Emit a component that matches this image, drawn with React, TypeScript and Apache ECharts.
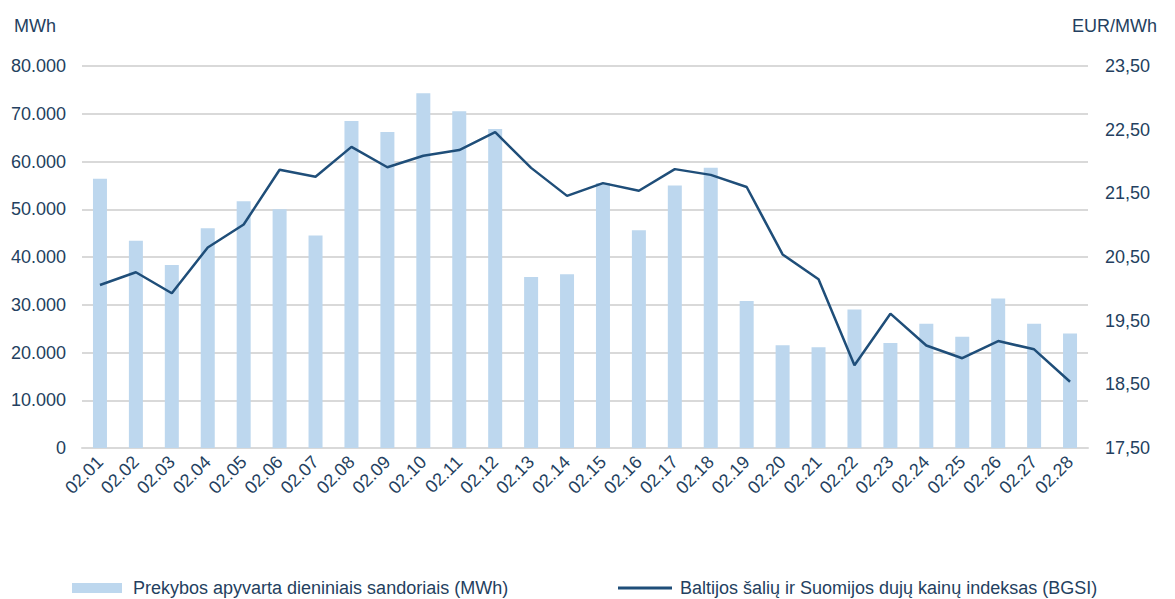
import React, { useEffect, useRef } from "react";
import * as echarts from "echarts";

const categories = [
  "02.01", "02.02", "02.03", "02.04", "02.05", "02.06", "02.07", "02.08", "02.09", "02.10",
  "02.11", "02.12", "02.13", "02.14", "02.15", "02.16", "02.17", "02.18", "02.19", "02.20",
  "02.21", "02.22", "02.23", "02.24", "02.25", "02.26", "02.27", "02.28",
];

const turnoverMWh = [
  56400, 43400, 38300, 46000, 51700, 50000, 44500, 68500, 66200, 74300,
  70500, 66800, 35800, 36400, 55500, 45600, 55000, 58700, 30800, 21500,
  21100, 29000, 22000, 26000, 23300, 31300, 26000, 24000,
];

const bgsiIndex = [
  20.06, 20.26, 19.93, 20.65, 21.01, 21.87, 21.76, 22.23, 21.91, 22.09,
  22.18, 22.46, 21.9, 21.46, 21.66, 21.54, 21.88, 21.79, 21.6, 20.54,
  20.15, 18.8, 19.61, 19.11, 18.91, 19.18, 19.05, 18.54,
];

const barName = "Prekybos apyvarta dieniniais sandoriais (MWh)";
const lineName = "Baltijos šalių ir Suomijos dujų kainų indeksas (BGSI)";
const leftUnit = "MWh";
const rightUnit = "EUR/MWh";

const TEXT = "#243F60";
const FONT = "'Liberation Sans', Arial, sans-serif";

export default function App() {
  const ref = useRef<HTMLDivElement>(null);

  useEffect(() => {
    document.body.style.margin = "0";
    if (!ref.current) return;
    const chart = echarts.init(ref.current, undefined, { renderer: "svg" });
    chart.setOption({
      animation: false,
      backgroundColor: "#ffffff",
      textStyle: { fontFamily: FONT, color: TEXT },
      grid: { left: 82, right: 87, top: 66, bottom: 151, containLabel: false },
      graphic: [
        {
          type: "text",
          left: 14,
          top: 17,
          style: { text: leftUnit, fill: TEXT, font: `18px ${FONT}` },
        },
        {
          type: "text",
          left: 1072,
          top: 17,
          style: { text: rightUnit, fill: TEXT, font: `18px ${FONT}` },
        },
      ],
      legend: [
        {
          left: 72,
          top: 579,
          padding: 0,
          itemWidth: 50,
          itemHeight: 10,
          textStyle: { color: TEXT, fontSize: 18, fontFamily: FONT, padding: [0, 0, 0, 6] },
          data: [{ name: barName, icon: "rect" }],
        },
        {
          left: 618,
          top: 579,
          padding: 0,
          itemWidth: 54,
          itemHeight: 10,
          textStyle: { color: TEXT, fontSize: 18, fontFamily: FONT, padding: [0, 0, 0, 3] },
          data: [{ name: lineName, icon: "path://M0 0H54V3H0Z" }],
        },
      ],
      xAxis: {
        type: "category",
        data: categories,
        axisTick: { show: false },
        axisLine: { lineStyle: { color: "#d9d9d9", width: 2 } },
        axisLabel: {
          rotate: 45,
          color: TEXT,
          fontSize: 18,
          fontFamily: FONT,
          margin: 11,
          interval: 0,
        },
      },
      yAxis: [
        {
          type: "value",
          min: 0,
          max: 80000,
          interval: 10000,
          axisLine: { show: false },
          axisTick: { show: false },
          splitLine: { lineStyle: { color: "#d9d9d9", width: 2 } },
          axisLabel: {
            color: TEXT,
            fontSize: 18,
            fontFamily: FONT,
            margin: 16,
            formatter: (v: number) =>
              v === 0 ? "0" : Math.round(v).toString().replace(/\B(?=(\d{3})+(?!\d))/g, "."),
          },
        },
        {
          type: "value",
          min: 17.5,
          max: 23.5,
          interval: 1,
          axisLine: { show: false },
          axisTick: { show: false },
          splitLine: { show: false },
          axisLabel: {
            color: TEXT,
            fontSize: 18,
            fontFamily: FONT,
            margin: 17,
            formatter: (v: number) => v.toFixed(2).replace(".", ","),
          },
        },
      ],
      series: [
        {
          name: barName,
          type: "bar",
          data: turnoverMWh,
          yAxisIndex: 0,
          barWidth: 14,
          itemStyle: { color: "#BDD7EE" },
        },
        {
          name: lineName,
          type: "line",
          data: bgsiIndex,
          yAxisIndex: 1,
          symbol: "none",
          lineStyle: { color: "#1F4E79", width: 2.5 },
          itemStyle: { color: "#1F4E79" },
        },
      ],
    });
    return () => chart.dispose();
  }, []);

  return <div ref={ref} style={{ width: 1175, height: 599 }} />;
}
